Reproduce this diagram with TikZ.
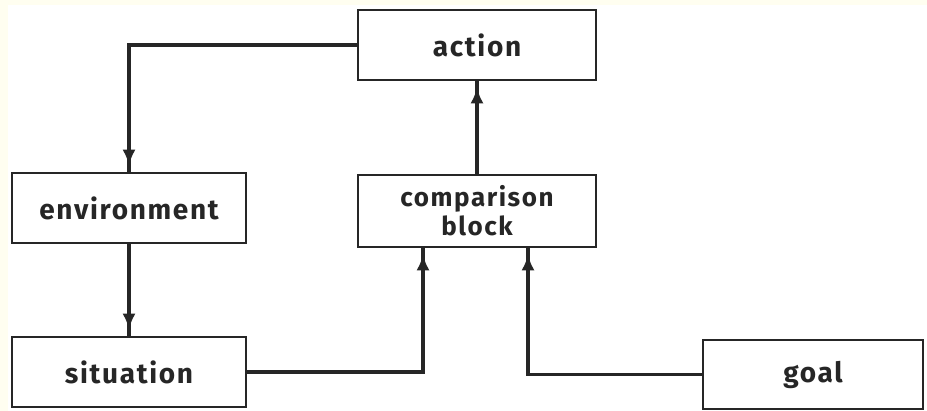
\documentclass[tikz,border=0pt]{standalone}
\usepackage{fontspec}
\setmainfont{Fira Sans}[LetterSpace=6]
\usetikzlibrary{arrows.meta,calc}
\definecolor{ink}{HTML}{262626}
\definecolor{cream}{HTML}{FFFEF0}
\tikzset{
  blk/.style={draw=ink,line width=2.6pt,fill=white,minimum width=#1,minimum height=70pt,inner sep=0pt,align=center,
    font=\fontsize{28}{30}\selectfont\bfseries,text=ink},
  blk/.default=234pt,
  conn/.style={draw=ink,line width=3.6pt,
    postaction={draw=ink,line width=3.6pt,shorten >=6pt,-{Latex[length=16pt,width=13pt]}}}
}
\begin{document}
\begin{tikzpicture}[x=1pt,y=1pt]
\useasboundingbox (0,0) rectangle (927,411);
\fill[cream] (0,0) rectangle (927,411);
\fill[white] (8,0) rectangle (927,406);
\begin{scope}
\clip (0,0) rectangle (927,411);
\node[blk=238pt] (action) at (477,366) {action};
\node[blk=234pt] (env) at (129,203) {environment};
\node[blk=238pt,minimum height=72pt,font=\fontsize{26}{29}\selectfont\bfseries] (comp) at (477,200) {comparison\\block};
\node[blk=234pt] (sit) at (129,39) {situation};
\node[blk=220pt,minimum height=69pt] (goal) at (813,36.5) {goal};
\draw[conn] (action.west) -| (env.north);
\draw[conn] (env.south) -- (sit.north);
\draw[conn] (sit.east) -| ([xshift=-54pt]comp.south);
\draw[conn] (goal.west) -| ([xshift=51pt]comp.south);
\draw[conn] (comp.north) -- (action.south);
\end{scope}
\end{tikzpicture}
\end{document}
